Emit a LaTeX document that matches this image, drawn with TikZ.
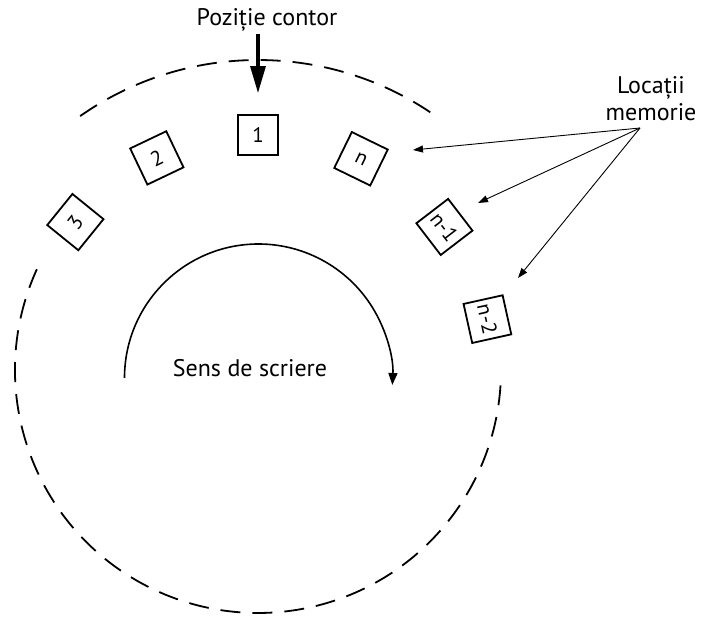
\documentclass[tikz,border=0pt]{standalone}
\usepackage{fontspec}
\setmainfont{PT Sans}
\usetikzlibrary{arrows.meta,calc}
\begin{document}
\begin{tikzpicture}[x=1pt,y=1pt,
  cell/.style={draw,line width=1.8pt,minimum size=40pt,inner sep=0pt,
    font=\fontsize{21}{21}\selectfont},
  track/.style={line width=1.8pt,dash pattern=on 20pt off 12pt},
  lbltext/.style={font=\fontsize{24}{27}\selectfont,inner sep=2pt},
  pointer/.style={line width=0.9pt,-{Triangle[length=10pt,width=7pt]}},
  turn/.style={line width=1.6pt,-{Triangle[length=12pt,width=9pt]}},
  marker/.style={line width=3.2pt,-{Triangle[length=27pt,width=15pt]}}
]
\useasboundingbox (0,0) rectangle (702,624);
\coordinate (C) at (258,254);
\coordinate (W) at (258.5,246);

% outer dashed track (two arcs, open where the cells sit)
\draw[track] ($(C)+(125:310)$) arc[start angle=125,end angle=55,radius=310];
\draw[track] ($(C)+(155.5:243)$) arc[start angle=155.5,end angle=357.5,radius=243];

% memory cells along the ring
\foreach \nm/\ang/\txt in {c3/141/3, c2/115.5/2, c1/90/1, cn/64/n, cna/37.5/n-1, cnb/12.5/n-2}
  \node[cell,rotate=\ang-90] (\nm) at ($(C)+(\ang:235)$) {\txt};

% counter position
\node[lbltext,anchor=base] (poz) at (267,598) {Poziție contor};
\draw[marker] (poz.south -| c1.north) -- ([yshift=21pt]c1.north);

% writing direction
\draw[turn] ($(W)+(180:134)$) arc[start angle=180,end angle=-3,radius=134];
\node[lbltext,anchor=base] (sens) at (250,247) {Sens de scriere};

% memory locations
\node[lbltext,align=center] (loc) at (651,525) {Locații\\memorie};
\coordinate (src) at (640,496);
\coordinate (tn) at (413,474);
\coordinate (tna) at (478,421);
\coordinate (tnb) at (518,346);
\draw[pointer] (src) -- (tn);
\draw[pointer] (src) -- (tna);
\draw[pointer] (src) -- (tnb);
\end{tikzpicture}
\end{document}
